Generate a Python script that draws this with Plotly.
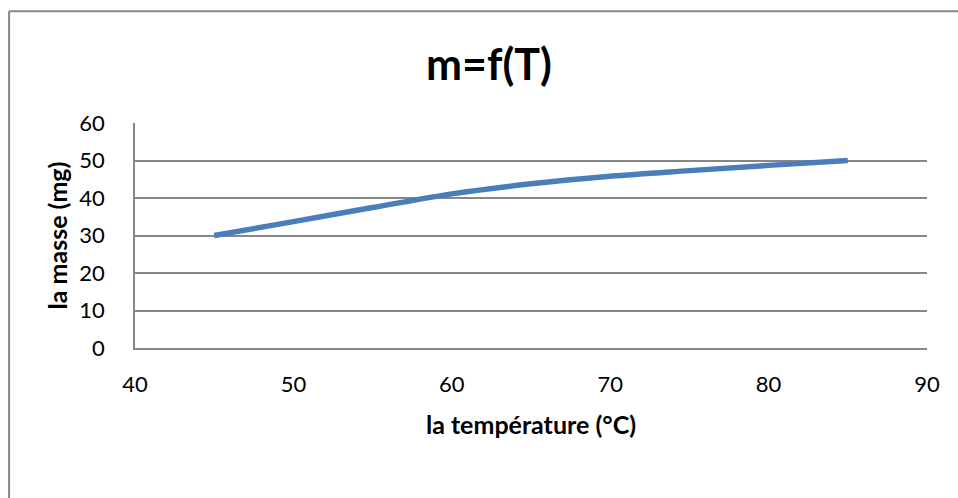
import plotly.graph_objects as go

# Data
temperature = [45, 50, 55, 60, 65, 70, 75, 80, 85]
masse = [30, 33.7, 37.45, 41.1, 43.8, 45.8, 47.3, 48.7, 50]

x_ticks = [40, 50, 60, 70, 80, 90]
y_ticks = [0, 10, 20, 30, 40, 50, 60]

W, H = 958, 498
L, R, T, B = 135, 927.5, 123.3, 348.3  # plot area in pixels
pw, ph = R - L, B - T

def px_to_paper_x(px):
    return (px - L) / pw

def px_to_paper_y(py):
    return (B - py) / ph

FONT = "Lato, Calibri, Carlito, sans-serif"
GRID = "#878787"

fig = go.Figure()
fig.add_trace(go.Scatter(
    x=temperature, y=masse, mode="lines",
    line=dict(color="#4A7EBB", width=5.5, shape="spline", smoothing=1.0),
    showlegend=False, hoverinfo="x+y",
))

fig.update_layout(
    width=W, height=H,
    margin=dict(l=L, r=W - R, t=T, b=H - B, pad=0),
    paper_bgcolor="white", plot_bgcolor="white",
    font=dict(family=FONT, color="#000000"),
    title=dict(
        text="<b>m=f(T)</b>",
        font=dict(family=FONT, size=43, color="#000000"),
        xref="container", yref="container",
        x=489 / W, y=1 - 65 / H, xanchor="center", yanchor="middle",
    ),
    xaxis=dict(
        range=[40, 90], tickvals=x_ticks, ticktext=[str(v) for v in x_ticks],
        showgrid=False, zeroline=False,
        showline=True, linecolor=GRID, linewidth=1.5,
        ticks="", ticklabelstandoff=16,
        tickfont=dict(family=FONT, size=22, color="#000000"),
        title=dict(text="<b>la température (°C)</b>", standoff=20,
                   font=dict(family=FONT, size=25, color="#000000")),
    ),
    yaxis=dict(
        range=[0, 60], tickvals=y_ticks, ticktext=[str(v) for v in y_ticks],
        showgrid=True, gridcolor=GRID, gridwidth=1.5,
        zeroline=False,
        showline=True, linecolor=GRID, linewidth=1.5,
        ticks="", ticklabelstandoff=24,
        tickfont=dict(family=FONT, size=22, color="#000000"),
        title=dict(text="<b>la masse (mg)</b>", standoff=5,
                   font=dict(family=FONT, size=25, color="#000000")),
    ),
    shapes=[
        # outer chart frame (top and left edges visible)
        dict(type="line", xref="paper", yref="paper",
             x0=px_to_paper_x(9), x1=px_to_paper_x(9),
             y0=px_to_paper_y(11.5), y1=px_to_paper_y(H + 5),
             line=dict(color=GRID, width=2)),
        dict(type="line", xref="paper", yref="paper",
             x0=px_to_paper_x(9), x1=px_to_paper_x(W + 5),
             y0=px_to_paper_y(11.5), y1=px_to_paper_y(11.5),
             line=dict(color=GRID, width=2)),
    ],
)

fig.write_html("out.html")
